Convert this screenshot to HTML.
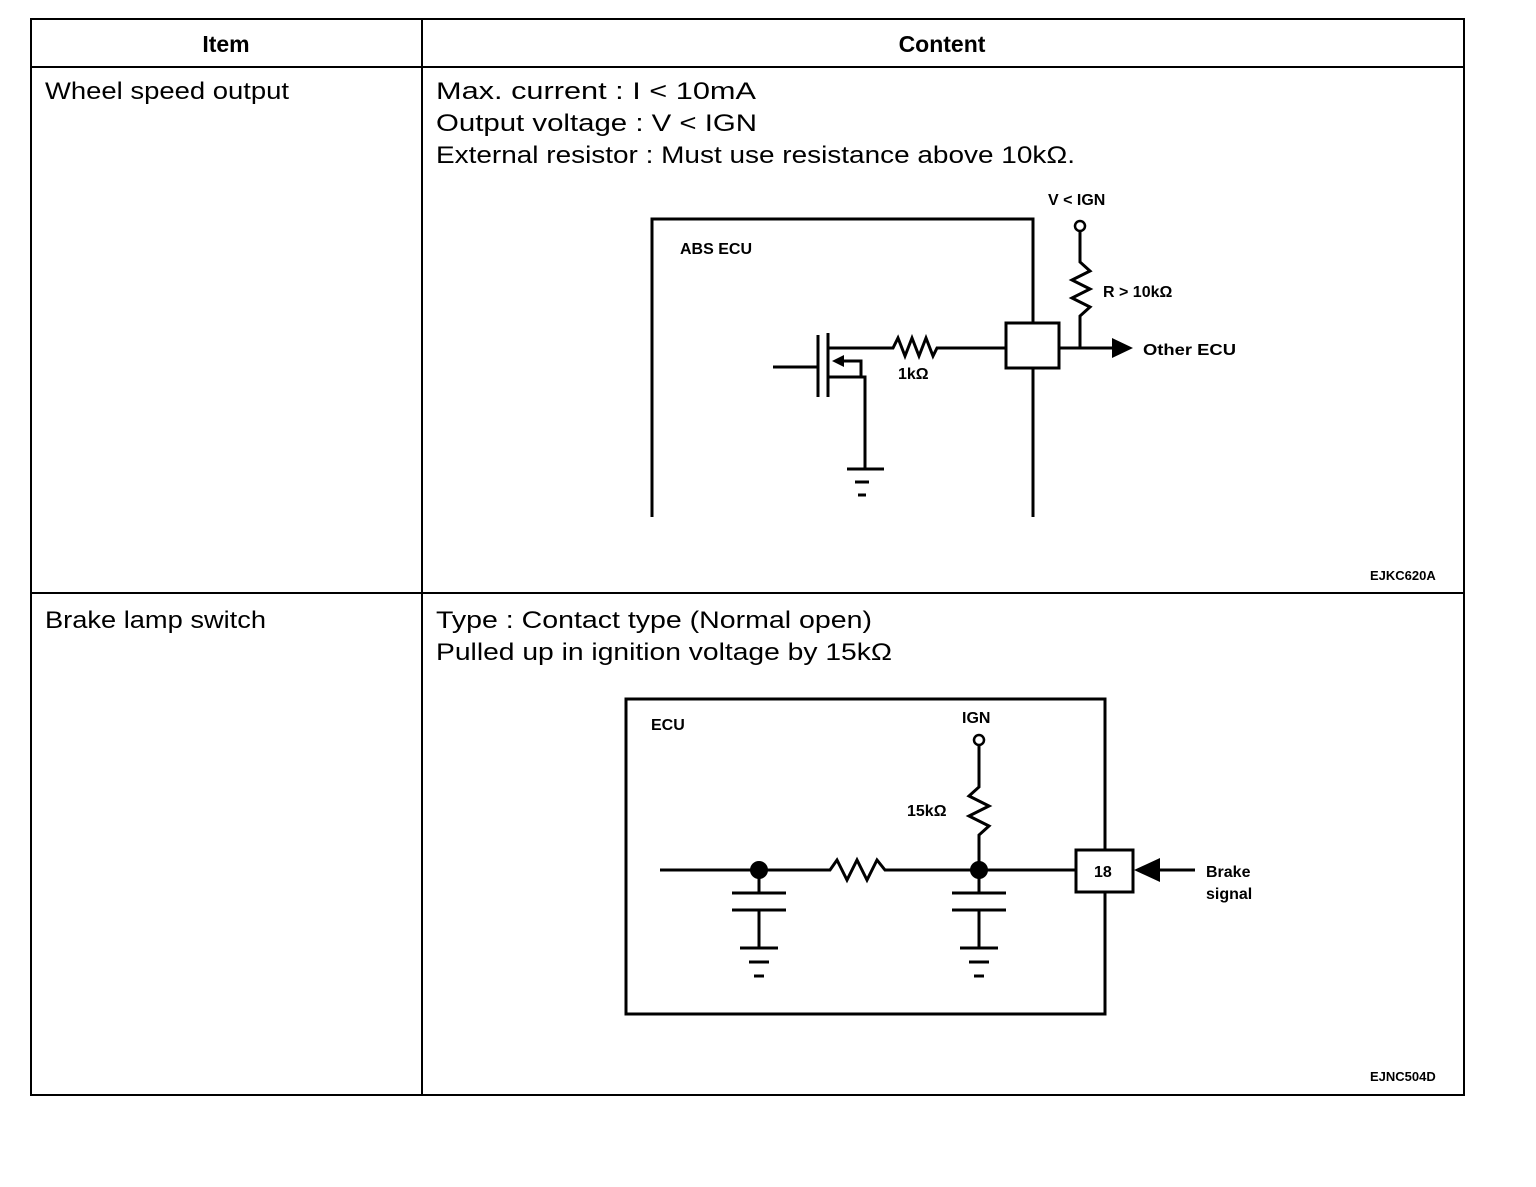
<!DOCTYPE html>
<html><head><style>
body{margin:0;background:#fff;}
svg text{font-family:"Liberation Sans",sans-serif;fill:#000;}
</style></head><body>
<svg width="1536" height="1182" viewBox="0 0 1536 1182" xmlns="http://www.w3.org/2000/svg">
<g stroke="#000" stroke-width="2" fill="none">
<rect x="31" y="19" width="1433" height="1076"/>
<line x1="422" y1="19" x2="422" y2="1095"/>
<line x1="31" y1="67" x2="1464" y2="67"/>
<line x1="31" y1="593" x2="1464" y2="593"/>
</g>
<g stroke="#000" stroke-width="3" fill="none">
<polyline points="652,517 652,219 1033,219 1033,323"/>
<line x1="1033" y1="368" x2="1033" y2="517"/>
<rect x="1006" y="323" width="53" height="45" fill="#fff"/>
<line x1="773" y1="367" x2="818" y2="367"/>
<line x1="818" y1="335" x2="818" y2="397"/>
<line x1="828" y1="333" x2="828" y2="397"/>
<polyline points="828,348 893,348 898,338 905,356 912,338 919,356 926,338 933,356 937,348 1006,348"/>
<polyline points="828,377 865,377 865,470"/>
<polyline points="840,361 861,361 861,377"/>
<line x1="847" y1="469" x2="884" y2="469"/>
<line x1="855" y1="482" x2="869" y2="482"/>
<line x1="858" y1="495" x2="866" y2="495"/>
<line x1="1059" y1="348" x2="1112" y2="348"/>
<polyline points="1080,348 1080,316 1090,307 1072,298 1090,289 1072,280 1090,271 1080,262 1080,232"/>
<circle cx="1080" cy="226" r="5" stroke-width="2.5"/>
<rect x="626" y="699" width="479" height="315"/>
<polyline points="660,870 830,870 837,860 847,880 857,860 867,880 877,860 885,870 1076,870"/>
<rect x="1076" y="850" width="57" height="42" fill="#fff"/>
<line x1="1105" y1="699" x2="1105" y2="850"/>
<line x1="1105" y1="892" x2="1105" y2="1014"/>
<line x1="1160" y1="870" x2="1195" y2="870"/>
<polyline points="979,870 979,835 989,826 969,816 989,806 969,796 979,787 979,746"/>
<circle cx="979" cy="740" r="5" stroke-width="2.5"/>
<line x1="759" y1="870" x2="759" y2="893"/><line x1="732" y1="893" x2="786" y2="893"/><line x1="732" y1="910" x2="786" y2="910"/><line x1="759" y1="910" x2="759" y2="948"/><line x1="740" y1="948" x2="778" y2="948"/><line x1="749" y1="962" x2="769" y2="962"/><line x1="754" y1="976" x2="764" y2="976"/>
<line x1="979" y1="870" x2="979" y2="893"/><line x1="952" y1="893" x2="1006" y2="893"/><line x1="952" y1="910" x2="1006" y2="910"/><line x1="979" y1="910" x2="979" y2="948"/><line x1="960" y1="948" x2="998" y2="948"/><line x1="969" y1="962" x2="989" y2="962"/><line x1="974" y1="976" x2="984" y2="976"/>
</g>
<g fill="#000">
<polygon points="832,361 844,355 844,367"/>
<polygon points="1133,348 1112,338 1112,358"/>
<polygon points="1134,870 1160,858 1160,882"/>
<circle cx="759" cy="870" r="9"/>
<circle cx="979" cy="870" r="9"/>
</g>
<text x="226" y="52" font-size="23" font-weight="bold" text-anchor="middle">Item</text>
<text x="942" y="52" font-size="23" font-weight="bold" text-anchor="middle">Content</text>
<g font-size="24" xml:space="preserve">
<text x="45" y="99" textLength="244" lengthAdjust="spacingAndGlyphs">Wheel speed output</text>
<text x="436" y="99" textLength="320" lengthAdjust="spacingAndGlyphs">Max.  current :  I &lt; 10mA</text>
<text x="436" y="131" textLength="321" lengthAdjust="spacingAndGlyphs">Output voltage :  V &lt; IGN</text>
<text x="436" y="163" textLength="639" lengthAdjust="spacingAndGlyphs">External resistor :  Must use resistance above 10kΩ.</text>
<text x="45" y="628" textLength="221" lengthAdjust="spacingAndGlyphs">Brake lamp switch</text>
<text x="436" y="628" textLength="436" lengthAdjust="spacingAndGlyphs">Type :  Contact type (Normal open)</text>
<text x="436" y="660" textLength="456" lengthAdjust="spacingAndGlyphs">Pulled up in ignition voltage by 15kΩ</text>
</g>
<g font-size="16" font-weight="bold">
<text x="680" y="254">ABS ECU</text>
<text x="1048" y="205">V &lt; IGN</text>
<text x="1103" y="297">R &gt; 10kΩ</text>
<text x="1143" y="355" textLength="93" lengthAdjust="spacingAndGlyphs">Other ECU</text>
<text x="898" y="379">1kΩ</text>
<text x="651" y="730">ECU</text>
<text x="962" y="723">IGN</text>
<text x="907" y="816">15kΩ</text>
<text x="1094" y="877">18</text>
<text x="1206" y="877">Brake</text>
<text x="1206" y="899">signal</text>
<text x="1370" y="580" font-size="13">EJKC620A</text>
<text x="1370" y="1081" font-size="13">EJNC504D</text>
</g>
</svg>
</body></html>
